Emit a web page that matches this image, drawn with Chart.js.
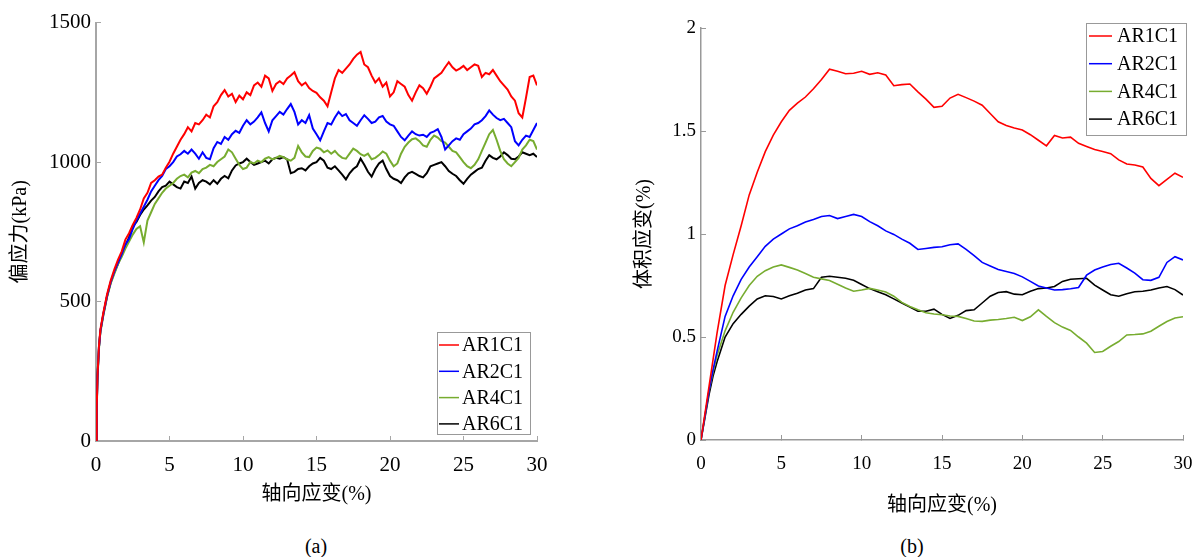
<!DOCTYPE html>
<html>
<head>
<meta charset="utf-8">
<script src="https://cdn.jsdelivr.net/npm/chart.js@4.4.1/dist/chart.umd.min.js"></script>
<style>
  body { margin: 0; background: #fff; width: 1204px; height: 557px; overflow: hidden; position: relative; }
  .painel { position: absolute; top: 0; }
  .legenda { position: absolute; top: 534px; width: 60px; text-align: center;
             font: 20px 'Liberation Serif', 'Times New Roman', serif; line-height: 24px; color: #000; }
</style>
</head>
<body>
<div class="painel" style="left:0"><canvas id="graficoTensao" width="600" height="520"></canvas></div>
<div class="painel" style="left:600px"><canvas id="graficoVolume" width="604" height="530"></canvas></div>
<div class="legenda" style="left:286px">(a)</div>
<div class="legenda" style="left:882px">(b)</div>

<script>
// axial strain (%) samples, panel (a)
const strainA = [
  0, 0.05, 0.1, 0.2, 0.3, 0.5, 0.75,
  1, 1.25, 1.5, 1.75, 2, 2.25, 2.5, 2.75, 3, 3.25, 3.5, 3.75, 4, 4.25, 4.5, 4.75,
  5, 5.25, 5.5, 5.75, 6, 6.25, 6.5, 6.75, 7, 7.25, 7.5, 7.75, 8, 8.25, 8.5, 8.75,
  9, 9.25, 9.5, 9.75, 10, 10.25, 10.5, 10.75, 11, 11.25, 11.5, 11.75, 12, 12.25, 12.5, 12.75,
  13, 13.25, 13.5, 13.75, 14, 14.25, 14.5, 14.75, 15, 15.25, 15.5, 15.75, 16, 16.25, 16.5, 16.75,
  17, 17.25, 17.5, 17.75, 18, 18.25, 18.5, 18.75, 19, 19.25, 19.5, 19.75, 20, 20.25, 20.5, 20.75,
  21, 21.25, 21.5, 21.75, 22, 22.25, 22.5, 22.75, 23, 23.25, 23.5, 23.75, 24, 24.25, 24.5, 24.75,
  25, 25.25, 25.5, 25.75, 26, 26.25, 26.5, 26.75, 27, 27.25, 27.5, 27.75, 28, 28.25, 28.5, 28.75,
  29, 29.25, 29.5, 29.75, 30
];

// deviator stress (kPa)
const devAR1C1 = [
  0, 120, 230, 340, 400, 460, 525,
  575, 615, 650, 680, 722, 745, 775, 800, 830, 870, 890, 925, 935, 948, 955, 980,
  1001, 1030, 1055, 1080, 1100, 1125, 1110, 1140, 1135, 1150, 1170, 1160, 1200, 1215, 1240, 1258,
  1235, 1245, 1215, 1238, 1225, 1250, 1240, 1275, 1285, 1270, 1310, 1300, 1255, 1280, 1290, 1280,
  1300, 1310, 1322, 1290, 1275, 1285, 1265, 1255, 1248, 1232, 1220, 1200, 1250, 1300, 1330, 1320,
  1335, 1350, 1370, 1385, 1395, 1350, 1340, 1310, 1285, 1300, 1270, 1285, 1235, 1250, 1290, 1280,
  1270, 1240, 1220, 1250, 1275, 1265, 1245, 1270, 1300, 1310, 1320, 1340, 1358, 1340, 1328, 1335,
  1345, 1330, 1340, 1350, 1345, 1305, 1320, 1315, 1330, 1310, 1290, 1275, 1260, 1235, 1220, 1175,
  1160, 1230, 1305, 1310, 1275
];
const devAR2C1 = [
  0, 115, 225, 335, 395, 455, 520,
  570, 608, 640, 670, 705, 725, 760, 790, 815, 840, 865, 895, 915, 935, 950, 975,
  985, 1000, 1020, 1028, 1040, 1030, 1045, 1030, 1012, 1035, 1015, 1010, 1050, 1072, 1065, 1090,
  1080, 1100, 1112, 1105, 1130, 1150, 1135, 1145, 1160, 1178, 1140, 1110, 1150, 1165, 1180, 1170,
  1190, 1208, 1180, 1135, 1150, 1140, 1168, 1120, 1100, 1078, 1110, 1140, 1135, 1160, 1180, 1165,
  1172, 1150, 1140, 1130, 1150, 1168, 1155, 1140, 1145, 1160, 1165, 1145, 1135, 1130, 1110, 1090,
  1078, 1095, 1110, 1100, 1095, 1098, 1090, 1105, 1110, 1118, 1090, 1045, 1060, 1075, 1085, 1080,
  1100, 1110, 1120, 1135, 1140, 1150, 1165, 1185, 1170, 1158, 1150, 1155, 1140, 1125, 1075, 1060,
  1080, 1095, 1090, 1115, 1140
];
const devAR4C1 = [
  0, 110, 220, 330, 390, 450, 515,
  565, 600, 635, 660, 690, 715, 740, 760, 770, 712, 790, 820, 850, 870, 890, 905,
  915, 925, 940, 950, 955, 945, 962, 968, 960, 975, 980, 990, 985, 1000, 1010, 1020,
  1045, 1035, 1012, 990, 975, 980, 1000, 995, 1005, 1000, 1012, 1018, 1010, 1015, 1022, 1018,
  1010, 1005, 1015, 1058, 1035, 1020, 1018, 1040, 1052, 1048, 1035, 1042, 1030, 1040, 1025, 1015,
  1012, 1030, 1048, 1040, 1028, 1022, 1030, 1010, 1015, 1025, 1038, 1030, 1005, 985, 995, 1030,
  1055, 1070, 1082, 1085, 1075, 1060, 1055, 1080, 1095, 1088, 1075, 1070, 1055, 1040, 1035, 1018,
  1000, 985, 978, 990, 1010, 1040, 1070, 1100, 1115, 1080, 1040, 1010, 995, 985, 1000, 1015,
  1045, 1060, 1080, 1075, 1045
];
const devAR6C1 = [
  0, 125, 235, 335, 395, 455, 518,
  568, 605, 635, 668, 700, 730, 770, 785, 810, 830, 845, 862, 875, 895, 910, 915,
  930, 920, 910, 905, 930, 925, 948, 905, 925, 935, 930, 920, 935, 922, 940, 950,
  942, 970, 988, 995, 1000, 1012, 1000, 990, 995, 1000, 1005, 995, 1010, 1015, 1012, 1018,
  1010, 960, 965, 975, 978, 970, 985, 995, 1000, 1015, 1005, 980, 975, 985, 970, 955,
  938, 960, 975, 985, 1012, 990, 965, 948, 975, 995, 1005, 975, 950, 940, 935, 925,
  945, 960, 965, 958, 950, 945, 960, 985, 990, 995, 1000, 985, 968, 958, 950, 935,
  922, 940, 955, 965, 975, 980, 1005, 1025, 1015, 1010, 1020, 1035, 1025, 1012, 1010, 1020,
  1035, 1030, 1025, 1030, 1018
];

// axial strain (%) samples, panel (b)
const strainB = [
  0, 0.25, 0.5, 0.75, 1,
  1.5, 2, 2.5, 3, 3.5, 4, 4.5, 5, 5.5, 6, 6.5, 7, 7.5, 8, 8.5, 9, 9.5, 10,
  10.5, 11, 11.5, 12, 12.5, 13, 13.5, 14, 14.5, 15, 15.5, 16, 16.5, 17, 17.5, 18, 18.5, 19, 19.5, 20,
  20.5, 21, 21.5, 22, 22.5, 23, 23.5, 24, 24.5, 25, 25.5, 26, 26.5, 27, 27.5, 28, 28.5, 29, 29.5, 30
];

// volumetric strain (%)
const volAR1C1 = [
  0, 0.13, 0.26, 0.39, 0.52,
  0.75, 0.9, 1.04, 1.19, 1.3, 1.4, 1.48, 1.545, 1.6, 1.635, 1.665, 1.705, 1.75, 1.8, 1.79, 1.778, 1.78, 1.79,
  1.775, 1.783, 1.772, 1.72, 1.725, 1.728, 1.69, 1.655, 1.615, 1.62, 1.66, 1.678, 1.662, 1.645, 1.625, 1.585, 1.545, 1.527, 1.515, 1.505,
  1.482, 1.455, 1.428, 1.478, 1.466, 1.47, 1.44, 1.425, 1.41, 1.4, 1.39, 1.36, 1.34, 1.335, 1.325, 1.27, 1.235, 1.265, 1.295, 1.275
];
const volAR2C1 = [
  0, 0.12, 0.24, 0.34, 0.43,
  0.6, 0.7, 0.78, 0.84, 0.89, 0.94, 0.975, 1.0, 1.025, 1.04, 1.058, 1.07, 1.085, 1.09, 1.075, 1.085, 1.095, 1.085,
  1.06, 1.04, 1.015, 0.998, 0.975, 0.955, 0.925, 0.93, 0.935, 0.938, 0.948, 0.952, 0.925, 0.895, 0.862, 0.845, 0.828, 0.818, 0.808, 0.792,
  0.77, 0.748, 0.738, 0.728, 0.73, 0.734, 0.74, 0.8, 0.825, 0.84, 0.852, 0.858, 0.835, 0.81, 0.778, 0.775, 0.79, 0.862, 0.89, 0.874
];
const volAR4C1 = [
  0, 0.12, 0.24, 0.33, 0.41,
  0.53, 0.62, 0.69, 0.75, 0.795, 0.822, 0.84, 0.85, 0.838, 0.825, 0.808, 0.79, 0.782, 0.774, 0.756, 0.738, 0.722, 0.728,
  0.736, 0.728, 0.718, 0.698, 0.668, 0.648, 0.632, 0.618, 0.612, 0.608, 0.602, 0.6, 0.59, 0.578, 0.576, 0.582, 0.585, 0.59, 0.596, 0.58,
  0.598, 0.632, 0.6, 0.57, 0.548, 0.532, 0.5, 0.47, 0.425, 0.43, 0.455, 0.478, 0.51, 0.512, 0.515, 0.528, 0.552, 0.575, 0.592, 0.598
];
const volAR6C1 = [
  0, 0.11, 0.22, 0.31, 0.38,
  0.5, 0.565, 0.61, 0.65, 0.685, 0.7, 0.697, 0.685, 0.7, 0.712, 0.728, 0.735, 0.79, 0.795, 0.79, 0.785, 0.775, 0.755,
  0.735, 0.72, 0.705, 0.685, 0.665, 0.645, 0.625, 0.625, 0.635, 0.61, 0.59, 0.605, 0.628, 0.632, 0.665, 0.698, 0.716, 0.72, 0.708, 0.705,
  0.722, 0.735, 0.738, 0.745, 0.77, 0.78, 0.783, 0.785, 0.752, 0.728, 0.705, 0.698, 0.71, 0.72, 0.722, 0.728, 0.738, 0.745, 0.73, 0.704
];

const seriesNames = ['AR1C1', 'AR2C1', 'AR4C1', 'AR6C1'];
const seriesColors = ['#ff0000', '#0000ff', '#77ac30', '#000000'];

const serif = "'Liberation Serif', 'Times New Roman', serif";
const serifCJK = "'Liberation Serif', 'Noto Sans CJK SC', serif";

// pares x/y para o Chart.js
function pares(xs, ys) {
  return ys.map((v, i) => ({ x: xs[i], y: v }));
}

function conjuntos(xs, lista, largura) {
  return lista.map((ys, i) => ({
    label: seriesNames[i],
    data: pares(xs, ys),
    borderColor: seriesColors[i],
    backgroundColor: seriesColors[i],
    borderWidth: largura,
    pointRadius: 0,
    tension: 0,
    fill: false
  }));
}

// legenda com caixa desenhada dentro da area do grafico
const boxLegend = {
  id: 'boxLegend',
  afterDraw(chart, args, o) {
    const ctx = chart.ctx;
    ctx.save();
    ctx.fillStyle = '#fff';
    ctx.fillRect(o.x, o.y, o.w, o.h);
    ctx.strokeStyle = '#999';
    ctx.lineWidth = 1;
    ctx.strokeRect(o.x + 0.5, o.y + 0.5, o.w, o.h);
    ctx.font = o.font;
    ctx.textBaseline = 'middle';
    ctx.textAlign = 'left';
    chart.data.datasets.forEach((ds, i) => {
      const y = o.y + o.first + i * o.step;
      ctx.strokeStyle = ds.borderColor;
      ctx.lineWidth = o.lineWidth;
      ctx.beginPath();
      ctx.moveTo(o.x + o.l1, y);
      ctx.lineTo(o.x + o.l2, y);
      ctx.stroke();
      ctx.fillStyle = '#000';
      ctx.fillText(ds.label, o.x + o.tx, y + 1);
    });
    ctx.restore();
  }
};

function eixo(cfg) {
  return {
    type: 'linear',
    min: cfg.min,
    max: cfg.max,
    afterFit: cfg.afterFit,
    border: { display: true, color: cfg.borderColor, width: cfg.borderWidth },
    grid: { display: true, drawOnChartArea: false, drawTicks: true, tickLength: -5, tickColor: cfg.borderColor, lineWidth: 1 },
    ticks: {
      stepSize: cfg.step,
      color: '#000',
      padding: cfg.padding,
      maxRotation: 0,
      font: { family: serif, size: cfg.size, lineHeight: cfg.lineHeight || 1.2 },
      callback: v => String(v)
    },
    title: {
      display: true,
      text: cfg.title,
      color: '#000',
      padding: cfg.titlePadding,
      font: { family: serifCJK, size: 20 }
    }
  };
}

// Grafico (a): tensao desviadora
const graficoTensao = new Chart(document.getElementById('graficoTensao'), {
  type: 'line',
  data: { datasets: conjuntos(strainA, [devAR1C1, devAR2C1, devAR4C1, devAR6C1], 2) },
  options: {
    responsive: false,
    animation: false,
    layout: { padding: { left: 0, top: 20, right: 63, bottom: 0 } },
    plugins: {
      legend: { display: false },
      tooltip: { enabled: false },
      boxLegend: { x: 437, y: 332, w: 93, h: 102, first: 13, step: 26.3, l1: 2, l2: 22, tx: 25, lineWidth: 1.5, font: '20px ' + serif }
    },
    scales: {
      x: eixo({ min: 0, max: 30, step: 5, size: 21, padding: 17, title: '轴向应变(%)',
                titlePadding: { top: 0, bottom: 13 }, borderColor: '#a6a6a6', borderWidth: 2,
                afterFit: s => { s.height = 79; } }),
      y: eixo({ min: 0, max: 1500, step: 500, size: 21, padding: 10, title: '偏应力(kPa)',
                titlePadding: { top: 9, bottom: 0 }, borderColor: '#a6a6a6', borderWidth: 2,
                afterFit: s => { s.width = 96; } })
    }
  },
  plugins: [boxLegend]
});

// Grafico (b): deformacao volumetrica
const graficoVolume = new Chart(document.getElementById('graficoVolume'), {
  type: 'line',
  data: { datasets: conjuntos(strainB, [volAR1C1, volAR2C1, volAR4C1, volAR6C1], 1.6) },
  options: {
    responsive: false,
    animation: false,
    layout: { padding: { left: 0, top: 28, right: 21, bottom: 0 } },
    plugins: {
      legend: { display: false },
      tooltip: { enabled: false },
      boxLegend: { x: 486, y: 23, w: 100, h: 112, first: 13, step: 27.7, l1: 3, l2: 26, tx: 31, lineWidth: 1.5, font: '20px ' + serif }
    },
    scales: {
      x: eixo({ min: 0, max: 30, step: 5, size: 19, padding: 10, lineHeight: 2.05, title: '轴向应变(%)',
                titlePadding: { top: 0, bottom: 12 }, borderColor: '#999999', borderWidth: 1.5,
                afterFit: s => { s.height = 90; } }),
      y: eixo({ min: 0, max: 2, step: 0.5, size: 19, padding: 10, title: '体积应变(%)',
                titlePadding: { top: 33, bottom: 0 }, borderColor: '#999999', borderWidth: 1.5,
                afterFit: s => { s.width = 101; } })
    }
  },
  plugins: [boxLegend]
});
</script>
</body>
</html>
